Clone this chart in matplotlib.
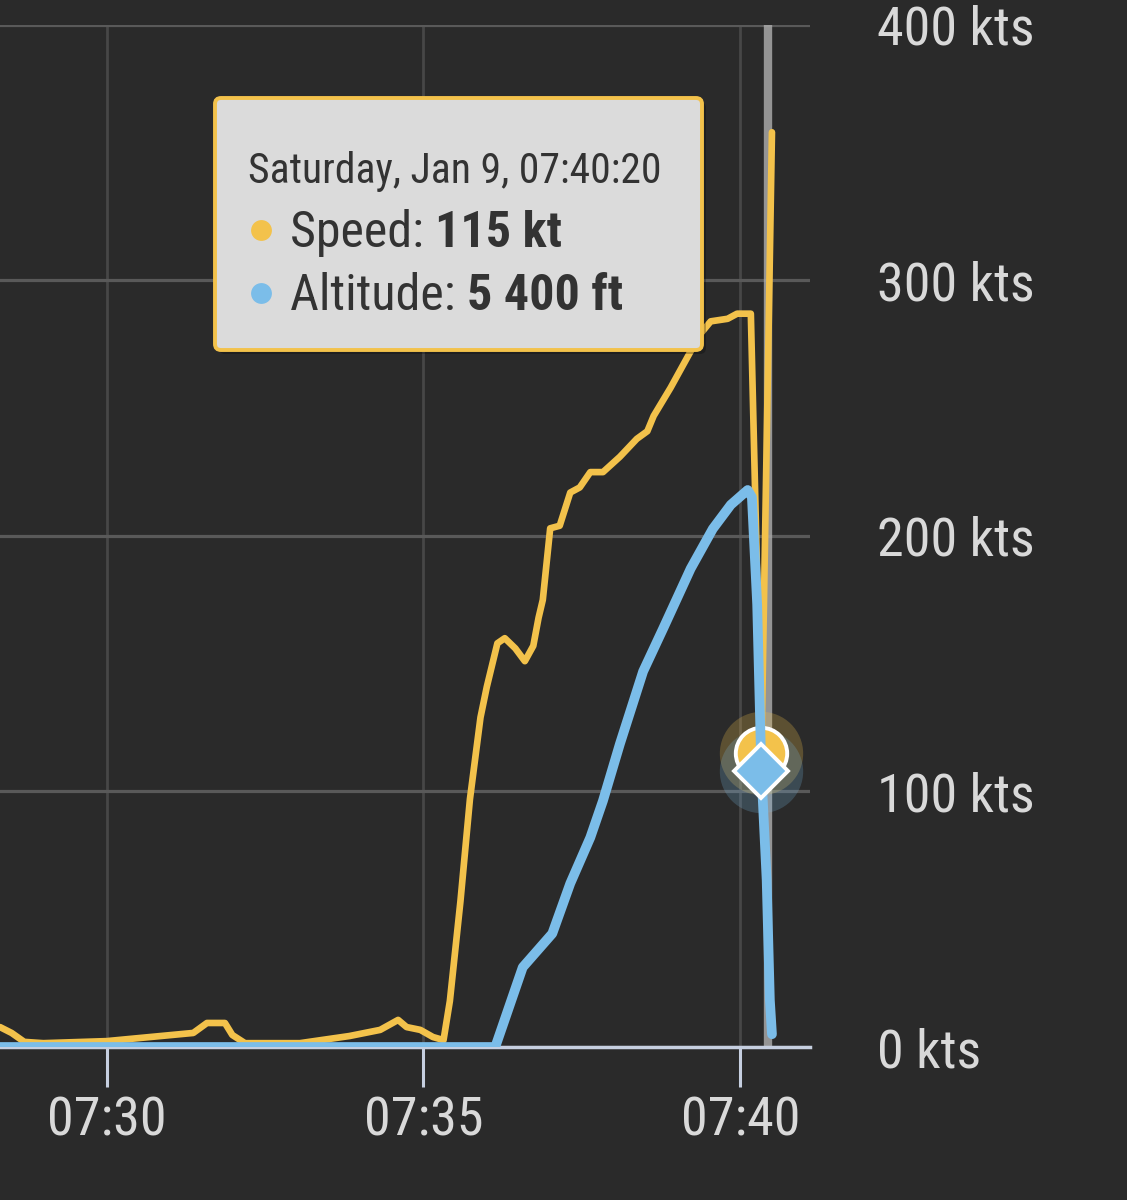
import pandas as pd
import matplotlib
matplotlib.use('Agg')
import matplotlib.pyplot as plt
import matplotlib.dates as mdates
from matplotlib.patches import FancyBboxPatch

# Fonts: condensed Roboto if it exists, otherwise regular Roboto
plt.rcParams['font.family'] = ['Roboto Condensed', 'Roboto', 'DejaVu Sans']

day = '2021-01-09 '

# Speed (kts)
speed_clock = ['07:28:19', '07:28:30', '07:28:42', '07:29:00', '07:30:00', '07:31:22',
               '07:31:35', '07:31:52', '07:31:59', '07:32:11', '07:33:03', '07:33:50',
               '07:34:19', '07:34:36', '07:34:44', '07:34:57', '07:35:09', '07:35:19',
               '07:35:25', '07:35:35', '07:35:44', '07:35:54', '07:36:00', '07:36:10',
               '07:36:17', '07:36:27', '07:36:36', '07:36:44', '07:36:49', '07:36:53',
               '07:37:00', '07:37:09', '07:37:19', '07:37:28', '07:37:38', '07:37:50',
               '07:38:06', '07:38:22', '07:38:32', '07:38:38', '07:38:54', '07:39:10',
               '07:39:22', '07:39:32', '07:39:48', '07:39:57', '07:40:10', '07:40:20',
               '07:40:30']
speed_kts = [7.8, 5.5, 2.0, 1.5, 2.3, 5.5,
             9.4, 9.4, 4.7, 1.5, 1.5, 4.3,
             6.7, 10.6, 7.8, 6.7, 3.9, 2.7,
             18, 57, 97, 129, 141, 158,
             160, 156, 151, 157, 168, 175,
             203, 204, 217, 219, 225, 225,
             231, 238, 241, 247, 258, 270,
             279, 284, 285, 287, 287, 115,
             358]

# Altitude (ft)
alt_clock = ['07:28:19', '07:36:08', '07:36:34', '07:36:48', '07:37:02', '07:37:19',
             '07:37:38', '07:37:50', '07:38:06', '07:38:28', '07:38:47', '07:39:13',
             '07:39:34', '07:39:51', '07:40:07', '07:40:11', '07:40:16', '07:40:20',
             '07:40:25', '07:40:28', '07:40:30']
alt_ft = [0, 0, 1560, 1890, 2220, 3200,
          4100, 4820, 5930, 7350, 8190, 9360,
          10140, 10610, 10900, 10760, 8660, 5400,
          3260, 920, 250]

speed_ticks = [0, 100, 200, 300, 400]

hover_clock = '07:40:20'
hover_speed = 115
hover_alt = 5400
tooltip_title = 'Saturday, Jan 9, 07:40:20'

speed_t = pd.to_datetime([day + t for t in speed_clock])
alt_t = pd.to_datetime([day + t for t in alt_clock])
hover_t = pd.Timestamp(day + hover_clock)

bg = '#2a2a2a'
yellow = '#f3c24b'
blue = '#7bbde9'
axis_col = '#c6cfe0'
label_col = '#d9d9d9'

fig = plt.figure(figsize=(11.27, 12), dpi=100, facecolor=bg)
ax = fig.add_axes([0, 0.1275, 0.7187, 0.8517], facecolor=bg)

# altitude goes on a hidden twin axis (twinx moves ticks left, so set right ticks after)
ax2 = ax.twinx()

ax.set_xlim(pd.Timestamp(day + '07:28:19'), pd.Timestamp(day + '07:41:06'))
ax.set_ylim(0, 400)
ax.yaxis.tick_right()
ax.set_yticks(speed_ticks)
ax.set_yticklabels([f'{v} kts' for v in speed_ticks])
ax.xaxis.set_major_locator(mdates.MinuteLocator(byminute=range(0, 60, 5)))
ax.xaxis.set_major_formatter(mdates.DateFormatter('%H:%M'))

ax.tick_params(axis='y', which='both', left=False, right=True, labelleft=False,
               labelright=True, length=0, pad=48, labelsize=39, labelcolor=label_col)
ax.tick_params(axis='x', length=29, width=2.2, color=axis_col, pad=6,
               labelsize=39, labelcolor=label_col)
ax.grid(axis='y', color='#595959', lw=2.3)
ax.grid(axis='x', color='#474747', lw=2)
ax.set_axisbelow(True)
for s in ['top', 'left', 'right']:
    ax.spines[s].set_visible(False)
ax.spines['bottom'].set_color(axis_col)
ax.spines['bottom'].set_linewidth(2.5)
ax.spines['bottom'].set_zorder(6)

# crosshair
ax.axvline(hover_t + pd.Timedelta(seconds=6), color='#a8a8a8', lw=6, alpha=0.85, zorder=1.5)

ax.plot(speed_t, speed_kts, color=yellow, lw=4.8, solid_joinstyle='round',
        solid_capstyle='round', zorder=3)
ax.plot([hover_t], [hover_speed], 'o', ms=60, color=yellow, alpha=0.25, mec='none', zorder=4)

ax2.set_ylim(0, 20000)
ax2.set_yticks([])
for s in ax2.spines.values():
    s.set_visible(False)
ax2.plot([hover_t], [hover_alt], 'o', ms=60, color=blue, alpha=0.22, mec='none', zorder=2)
# speed marker sits under the altitude line
ax2.plot([hover_t], [hover_speed / 400 * 20000], 'o', ms=37, color=yellow, mec='white',
         mew=2.8, zorder=2.5)
ax2.plot(alt_t, alt_ft, color=blue, lw=7, solid_joinstyle='round',
         solid_capstyle='round', zorder=3)
ax2.plot([hover_t], [hover_alt], 'D', ms=28, color=blue, mec='white', mew=2.8, zorder=5)

# tooltip overlay in pixel coordinates
ov = fig.add_axes([0, 0, 1, 1])
ov.set_xlim(0, 1127)
ov.set_ylim(1200, 0)
ov.axis('off')
ov.add_patch(FancyBboxPatch((219, 102), 487, 252, boxstyle='round,pad=0,rounding_size=6',
                            fc='black', ec='none', alpha=0.25, zorder=1))
ov.add_patch(FancyBboxPatch((215, 98), 487, 252, boxstyle='round,pad=0,rounding_size=6',
                            fc='#dbdbdb', ec=yellow, lw=2.8, zorder=2))
ov.text(248, 183, tooltip_title, fontsize=30, color='#333333', va='baseline', zorder=3)

rows = [('Speed: ', f'{hover_speed} kt', yellow, 247),
        ('Altitude: ', f'{hover_alt:,} ft'.replace(',', ' '), blue, 310)]
fig.canvas.draw()
renderer = fig.canvas.get_renderer()
for name, val, col, base in rows:
    ov.plot([261], [base - 17], 'o', ms=15, color=col, mec='none', zorder=3)
    t = ov.text(290, base, name, fontsize=36, color='#333333', va='baseline', zorder=3)
    bb = t.get_window_extent(renderer=renderer)
    x_end = ov.transData.inverted().transform((bb.x1, bb.y0))[0]
    ov.text(x_end, base, val, fontsize=36, fontweight='bold', color='#333333',
            va='baseline', zorder=3)

fig.savefig('out.png', dpi=100, facecolor=bg)
